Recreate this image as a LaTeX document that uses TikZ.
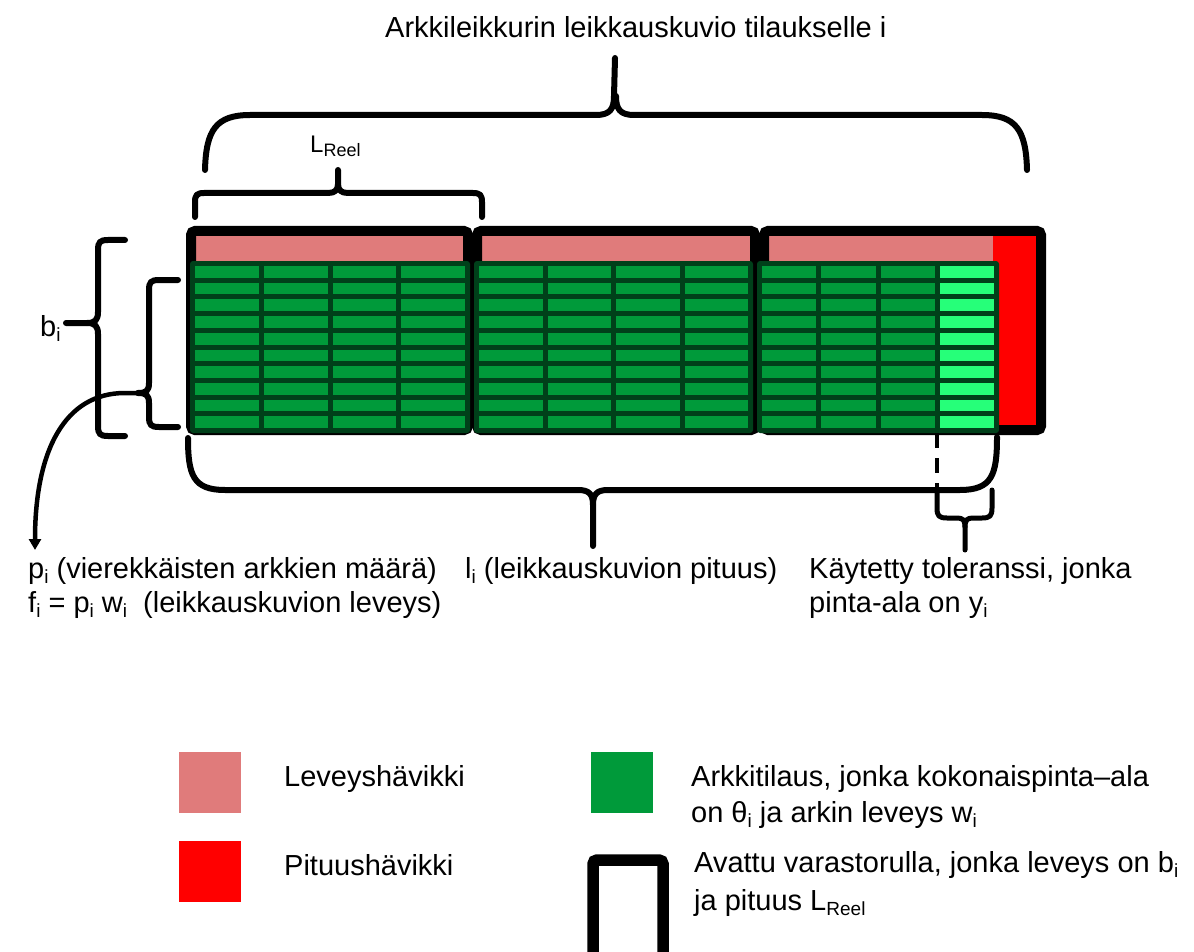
\documentclass[tikz,border=0pt]{standalone}
\usepackage{fontspec}
\setmainfont{Liberation Sans}
\usetikzlibrary{arrows.meta}

\definecolor{widthloss}{HTML}{E07B7B}
\definecolor{lengthloss}{HTML}{FF0000}
\definecolor{sheetgreen}{HTML}{009A3A}
\definecolor{sheetdark}{HTML}{00401A}
\definecolor{tolgreen}{HTML}{26FF79}

% subscript at the main text size and at the smaller label size
\newcommand{\lowix}[1]{\raisebox{-5pt}{\fontsize{19}{19}\selectfont #1}}
\newcommand{\lowixs}[1]{\raisebox{-4pt}{\fontsize{18}{18}\selectfont #1}}

% one cut pattern block: 4 columns x 10 rows of sheets
% #1 left x, #2 right x, #3 colour of the last column
\newcommand{\sheetblock}[3]{%
  \fill[sheetdark, rounded corners=3pt] (#1,261) rectangle (#2,433);
  \pgfmathsetmacro{\cellw}{(#2-#1-25)/4}
  \foreach \c in {0,...,3}{
    \ifnum\c=3 \def\cellcol{#3}\else\def\cellcol{sheetgreen}\fi
    \foreach \r in {0,...,9}{
      \fill[\cellcol] ({#1+5+\c*(\cellw+5)},{266+\r*16.7}) rectangle ++(\cellw,11.7);
    }
  }
}

\begin{document}
\begin{tikzpicture}[x=1pt,y=-1pt,
  lbl/.style={font=\fontsize{29}{34}\selectfont, inner sep=0pt, anchor=base west, align=left},
  small/.style={font=\fontsize{24}{28}\selectfont, inner sep=0pt, anchor=base west},
  brace/.style={draw=black, line width=6pt, line cap=round, line join=round},
  thinbrace/.style={draw=black, line width=5pt, line cap=round, line join=round},
  rollframe/.style={draw=black, line width=10pt, rounded corners=4pt}]
\useasboundingbox (0,0) rectangle (1194,952);

% ---- waste areas of the three unrolled reels
\fill[widthloss] (196,236) rectangle (463,261);
\fill[widthloss] (482,236) rectangle (750,261);
\fill[widthloss] (769,236) rectangle (993,261);
\fill[lengthloss] (993,236) rectangle (1036,425);

% ---- reel outlines
\draw[rollframe] (191,231) rectangle (468,430);
\draw[rollframe] (477,231) rectangle (755,430);
\draw[rollframe] (764,231) rectangle (1041,430);

% ---- sheet orders
\sheetblock{190}{470}{sheetgreen}
\sheetblock{474}{753}{sheetgreen}
\sheetblock{757}{999}{tolgreen}

% ---- top brace: whole cut pattern
\draw[brace] (205,170) .. controls (206,130) and (216,115) .. (250,115) -- (596,115)
   .. controls (610,115) and (614,109) .. (614,96) -- (615,58);
\draw[brace] (1027,170) .. controls (1026,130) and (1016,115) .. (982,115) -- (634,115)
   .. controls (620,115) and (616,109) .. (616,96);

% ---- reel length brace
\draw[brace] (195,217) -- (195,202) .. controls (195,195) and (197,193) .. (204,193) -- (328,193)
   .. controls (335,193) and (338,190) .. (338,184) -- (338,170);
\draw[brace] (482,217) -- (482,202) .. controls (482,195) and (480,193) .. (473,193) -- (348,193)
   .. controls (341,193) and (338,190) .. (338,184);

% ---- reel width brace (b_i)
\draw[brace] (125,240) -- (108,240) .. controls (100,240) and (98,242) .. (98,250) -- (98,312)
   .. controls (98,320) and (95,323) .. (87,323) -- (66,323);
\draw[brace] (125,436) -- (108,436) .. controls (100,436) and (98,434) .. (98,426) -- (98,334)
   .. controls (98,326) and (95,323) .. (87,323);

% ---- pattern width brace (f_i)
\draw[brace] (178,280) -- (159,280) .. controls (151,280) and (149,282) .. (149,290) -- (149,383)
   .. controls (149,391) and (146,393) .. (138,393);
\draw[brace] (178,427) -- (159,427) .. controls (151,427) and (149,425) .. (149,417) -- (149,403)
   .. controls (149,395) and (146,393) .. (138,393);
\coordinate (ftip) at (138,393);
\coordinate (fend) at (35,550);
\draw[line width=4.5pt, -{Triangle[width=12pt,length=11pt]}] (ftip) -- (125,393)
   .. controls (65,393) and (35,450) .. (fend);

% ---- pattern length brace (l_i)
\draw[brace] (188,438) .. controls (188,475) and (193,490) .. (225,490) -- (578,490)
   .. controls (589,490) and (593,494) .. (593,505) -- (593,546);
\draw[brace] (997,437) .. controls (997,475) and (992,490) .. (960,490) -- (608,490)
   .. controls (597,490) and (593,494) .. (593,505);

% ---- used tolerance
\draw[line width=4pt, dash pattern=on 15pt off 10pt] (937,433) -- (937,490);
\draw[thinbrace] (937,490) -- (937,508) .. controls (937,516) and (939,518) .. (947,518) -- (957,518)
   .. controls (963,518) and (965,520) .. (965,527) -- (965,550);
\draw[thinbrace] (992,490) -- (992,508) .. controls (992,516) and (990,518) .. (982,518) -- (973,518)
   .. controls (967,518) and (965,520) .. (965,527);

% ---- labels (two-line labels are placed by the baseline of their last line)
\node[lbl] (title) at (385,38) {Arkkileikkurin leikkauskuvio tilaukselle i};
\node[small] (lreel) at (310,153) {L\lowixs{Reel}};
\node[lbl] (bi) at (40,336) {b\lowix{i}};
\node[lbl] (pi) at (28,612) {p\lowix{i} (vierekkäisten arkkien määrä)\\
  f\lowix{i} = p\lowix{i} w\lowix{i}\ \ (leikkauskuvion leveys)};
\node[lbl] (li) at (465,578) {l\lowix{i} (leikkauskuvion pituus)};
\node[lbl] (tol) at (809,612) {Käytetty toleranssi, jonka\\ pinta-ala on y\lowix{i}};

% ---- legend
\fill[widthloss] (179,752) rectangle (241,813);
\node[lbl] (lgwidth) at (284,786) {Leveyshävikki};
\fill[lengthloss] (179,841) rectangle (241,902);
\node[lbl] (lglength) at (284,875) {Pituushävikki};
\fill[sheetgreen] (591,752) rectangle (653,813);
\node[lbl, font=\fontsize{29}{36}\selectfont] (lgorder) at (691,822) {Arkkitilaus, jonka kokonaispinta–ala\\ on θ\lowix{i} ja arkin leveys w\lowix{i}};
\draw[rollframe, line width=11.5pt] (593,860) rectangle (663,975);
\node[lbl, font=\fontsize{29}{38}\selectfont] (lgreel) at (694,910) {Avattu varastorulla, jonka leveys on b\lowix{i}\\ ja pituus L\lowix{Reel}};
\end{tikzpicture}
\end{document}
